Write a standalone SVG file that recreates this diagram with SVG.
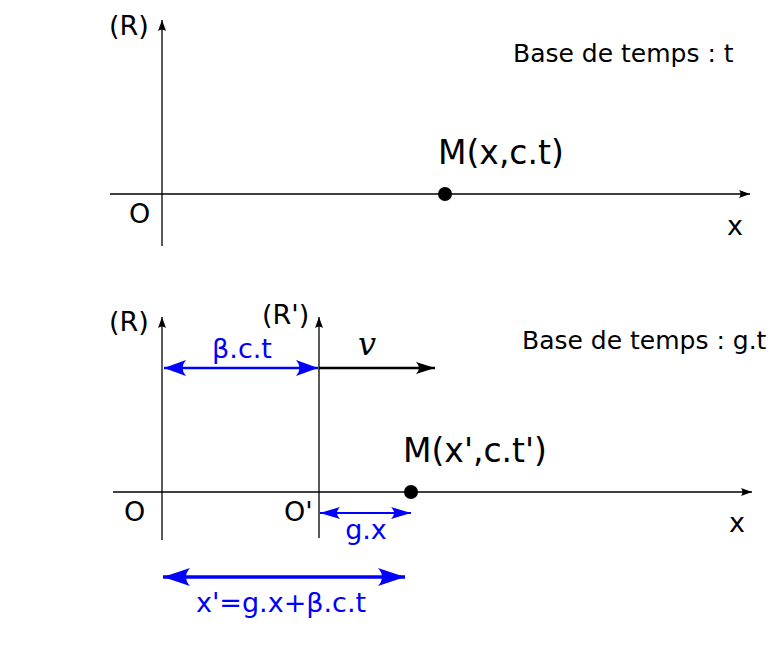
<svg xmlns="http://www.w3.org/2000/svg" width="772" height="646" viewBox="0 0 772 646">
<defs>
<style>
.ax{stroke:#000;stroke-width:1.3;fill:none}
.bl{stroke:#0000ff;fill:none}
.t{font-family:"DejaVu Sans",Verdana,sans-serif;fill:#000}
.tb{font-family:"DejaVu Sans",Verdana,sans-serif;fill:#0000ff}
</style>
<marker id="axh" markerUnits="userSpaceOnUse" markerWidth="14" markerHeight="10" viewBox="-12 -5 14 10" refX="0" refY="0" orient="auto">
<path d="M0,0 L-11,-4 Q-8,0 -11,4 Z" fill="#000"/>
</marker>
<marker id="bh" markerUnits="userSpaceOnUse" markerWidth="26" markerHeight="18" viewBox="-24 -9 26 18" refX="0" refY="0" orient="auto-start-reverse">
<path d="M0,0 L-22,-8 Q-15,0 -22,8 Z" fill="#0000ff"/>
</marker>
<marker id="bhs" markerUnits="userSpaceOnUse" markerWidth="24" markerHeight="14" viewBox="-22 -7 24 14" refX="0" refY="0" orient="auto-start-reverse">
<path d="M0,0 L-20,-6 Q-14,0 -20,6 Z" fill="#0000ff"/>
</marker>
<marker id="bhl" markerUnits="userSpaceOnUse" markerWidth="32" markerHeight="20" viewBox="-30 -10 32 20" refX="0" refY="0" orient="auto-start-reverse">
<path d="M0,0 L-27,-9 Q-19,0 -27,9 Z" fill="#0000ff"/>
</marker>
<marker id="kh" markerUnits="userSpaceOnUse" markerWidth="22" markerHeight="14" viewBox="-20 -7 22 14" refX="0" refY="0" orient="auto">
<path d="M0,0 L-19,-6 Q-13,0 -19,6 Z" fill="#000"/>
</marker>
</defs>

<g id="connectors">
<line id="top-y" class="ax" x1="162" y1="246" x2="162" y2="20" marker-end="url(#axh)"/>
<line id="top-x" class="ax" x1="110" y1="194" x2="750" y2="194" marker-end="url(#axh)"/>
<line id="bot-y" class="ax" x1="162" y1="540" x2="162" y2="317" marker-end="url(#axh)"/>
<line id="bot-y2" class="ax" x1="319" y1="538" x2="319" y2="317" marker-end="url(#axh)"/>
<line id="bot-x" class="ax" x1="113" y1="492" x2="752" y2="492" marker-end="url(#axh)"/>
<line id="bct" class="bl" stroke-width="2.5" x1="164" y1="368" x2="318" y2="368" marker-start="url(#bh)" marker-end="url(#bh)"/>
<line id="vel" stroke="#000" stroke-width="2.5" x1="319" y1="368" x2="435" y2="368" marker-end="url(#kh)"/>
<line id="gx" class="bl" stroke-width="2" x1="320" y1="513" x2="411" y2="513" marker-start="url(#bhs)" marker-end="url(#bhs)"/>
<line id="xp" class="bl" stroke-width="3.5" x1="163" y1="577" x2="405" y2="577" marker-start="url(#bhl)" marker-end="url(#bhl)"/>
</g>

<g id="top-frame">
<text class="t" x="109" y="35" font-size="27">(R)</text>
<text class="t" x="129" y="223" font-size="27">O</text>
<text class="t" x="727" y="235" font-size="27">x</text>
<text class="t" x="513" y="62" font-size="25">Base de temps : t</text>
</g>
<g id="point-M1">
<circle cx="445" cy="194" r="7" fill="#000"/>
<text class="t" x="438" y="164" font-size="33">M(x,c.t)</text>
</g>

<g id="bottom-frame">
<text class="t" x="109" y="331" font-size="27">(R)</text>
<text class="t" x="262" y="324" font-size="27">(R')</text>
<text class="t" x="124" y="521" font-size="27">O</text>
<text class="t" x="284" y="521" font-size="27">O'</text>
<text class="t" x="729" y="532" font-size="27">x</text>
<text class="t" x="522" y="349" font-size="25">Base de temps : g.t</text>
</g>
<g id="point-M2">
<circle cx="411" cy="492" r="7" fill="#000"/>
<text class="t" x="403" y="462" font-size="33">M(x',c.t')</text>
</g>
<g id="labels">
<text class="tb" x="242" y="358" font-size="27" text-anchor="middle">β.c.t</text>
<text x="367" y="355" font-size="32" font-style="italic" font-family="'DejaVu Serif','Liberation Serif',serif" text-anchor="middle">v</text>
<text class="tb" x="366" y="539" font-size="27" text-anchor="middle">g.x</text>
<text class="tb" x="281" y="612" font-size="27" text-anchor="middle">x'=g.x+β.c.t</text>
</g>
</svg>
